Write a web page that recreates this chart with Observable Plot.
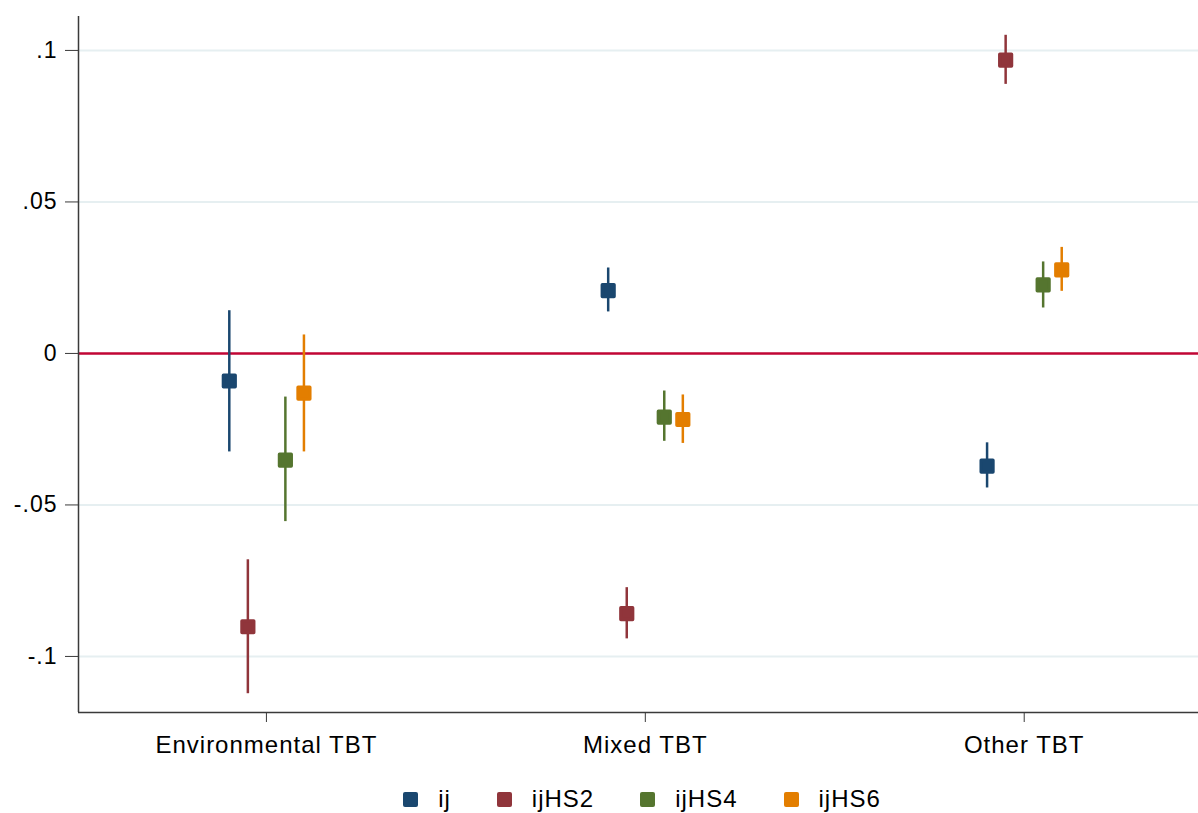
<!DOCTYPE html>
<html>
<head>
<meta charset="utf-8">
<script src="https://cdn.jsdelivr.net/npm/d3@7"></script>
<script src="https://cdn.jsdelivr.net/npm/@observablehq/plot@0.6"></script>
<style>
  html, body { margin: 0; padding: 0; background: #fff; overflow: hidden; }
  #chart { width: 1198px; height: 770px; }
  #legend { display: flex; justify-content: center; align-items: center; gap: 46px;
            font-family: "Liberation Sans", Arial, sans-serif; font-size: 24px; letter-spacing: 1px;
            color: #000; height: 28px; margin-top: 15px; margin-left: 86px; }
  .item { display: flex; align-items: center; }
  .sw { width: 15px; height: 15px; border-radius: 2px; margin-right: 20px; }
</style>
</head>
<body>
<div id="chart"></div>
<div id="legend"></div>
<script>
// ---- data ----
const categories = ["Environmental TBT", "Mixed TBT", "Other TBT"];
const seriesNames = ["ij", "ijHS2", "ijHS4", "ijHS6"];
const seriesColors = ["#1a476f", "#90353b", "#55752f", "#e37e00"];
// each entry: [estimate, lower CI, upper CI] per category
const ij    = [[-0.0091, -0.0325, 0.0141], [0.0207, 0.0137, 0.0282], [-0.0372, -0.0444, -0.0295]];
const ijHS2 = [[-0.0902, -0.1123, -0.0681], [-0.0859, -0.0942, -0.0773], [0.0968, 0.0888, 0.1050]];
const ijHS4 = [[-0.0352, -0.0555, -0.0144], [-0.0210, -0.0290, -0.0124], [0.0226, 0.0150, 0.0302]];
const ijHS6 = [[-0.0131, -0.0325, 0.0061], [-0.0218, -0.0297, -0.0137], [0.0276, 0.0205, 0.0350]];
const yTicks = [-0.1, -0.05, 0, 0.05, 0.1];
const yTickLabels = ["-.1", "-.05", "0", ".05", ".1"];

// ---- layout ----
const seriesData = [ij, ijHS2, ijHS4, ijHS6];
const offsets = [-0.098, -0.049, 0.05, 0.099];
const rows = [];
seriesData.forEach((arr, s) => {
  arr.forEach((v, c) => {
    rows.push({series: seriesNames[s], cat: c + 1, pos: c + 1 + offsets[s], est: v[0], lo: v[1], hi: v[2]});
  });
});
const xDomain = [0.504, 3.46];
const yDomain = [-0.1185, 0.1112];
const font = "'Liberation Sans', Arial, sans-serif";

const chart = Plot.plot({
  width: 1198,
  height: 770,
  marginLeft: 78,
  marginRight: 0,
  marginTop: 16,
  marginBottom: 58,
  style: {fontFamily: font, fontSize: "23px", color: "#000", background: "#fff"},
  x: {type: "linear", domain: xDomain},
  y: {domain: yDomain},
  color: {domain: seriesNames, range: seriesColors},
  marks: [
    Plot.ruleY(yTicks.filter(d => d !== 0), {stroke: "#e6eff1", strokeWidth: 2}),
    Plot.ruleY([0], {stroke: "#c10534", strokeWidth: 2.5}),
    Plot.ruleX(rows, {x: "pos", y1: "lo", y2: "hi", stroke: "series", strokeWidth: 2.5}),
    Plot.dot(rows, {x: "pos", y: "est", symbol: "square", r: 6.6, fill: "series", stroke: "series",
                    strokeWidth: 3.5, strokeLinejoin: "round"}),
    Plot.ruleX([xDomain[0]], {stroke: "#3a3a3a", strokeWidth: 1.5}),
    Plot.ruleY([yDomain[0]], {stroke: "#3a3a3a", strokeWidth: 1.5}),
    Plot.axisY({ticks: yTicks, tickFormat: d => yTickLabels[yTicks.indexOf(d)], tickSize: 13, tickPadding: 8,
                stroke: "#3a3a3a", fontSize: 23, fill: "#000", label: null}),
    Plot.axisX({ticks: [1, 2, 3], tickFormat: d => categories[d - 1], tickSize: 10, tickPadding: 13,
                stroke: "#3a3a3a", fontSize: 24, fill: "#000", label: null})
  ]
});
chart.querySelectorAll("text").forEach(t => t.style.letterSpacing = "1px");
document.getElementById("chart").appendChild(chart);

const legend = document.getElementById("legend");
seriesNames.forEach((name, i) => {
  const item = document.createElement("div");
  item.className = "item";
  const sw = document.createElement("div");
  sw.className = "sw";
  sw.style.background = seriesColors[i];
  const lab = document.createElement("span");
  lab.textContent = name;
  item.appendChild(sw);
  item.appendChild(lab);
  legend.appendChild(item);
});
</script>
</body>
</html>
